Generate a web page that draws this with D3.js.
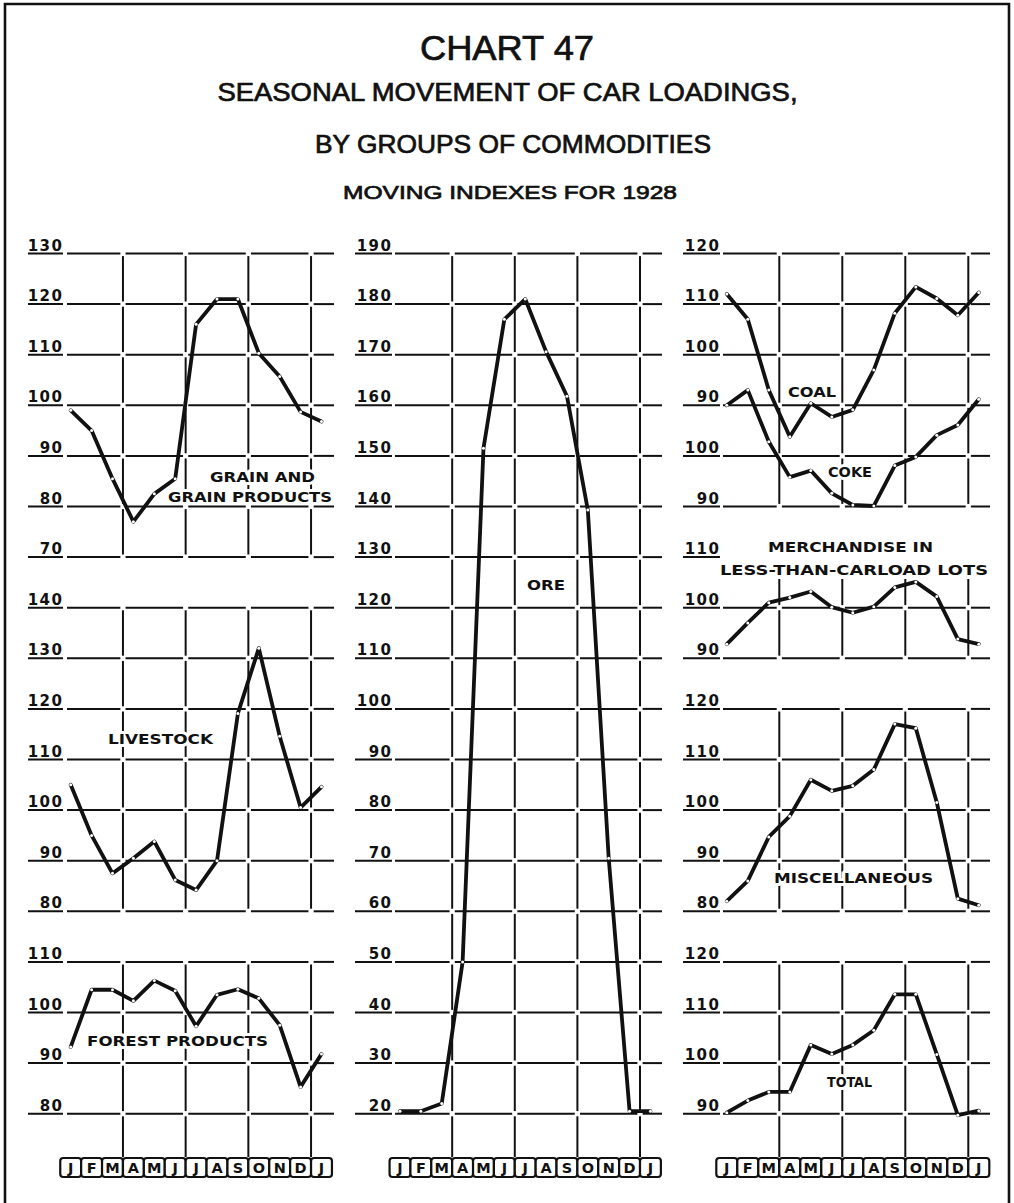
<!DOCTYPE html>
<html>
<head>
<meta charset="utf-8">
<script src="https://cdn.jsdelivr.net/npm/d3@7"></script>
<style>
  body { margin: 0; background: #fff; }
  svg text { fill: #111; }
</style>
</head>
<body>
<svg id="chart" width="1014" height="1203"></svg>
<script>
// Month initials along each column's base
const months = ["J", "F", "M", "A", "M", "J", "J", "A", "S", "O", "N", "D", "J"];

// Axis tick labels for each panel
const grainTicks     = [130, 120, 110, 100, 90, 80, 70];
const livestockTicks = [140, 130, 120, 110, 100, 90, 80];
const forestTicks    = [110, 100, 90, 80];
const oreTicks       = [190, 180, 170, 160, 150, 140, 130, 120, 110, 100, 90, 80, 70, 60, 50, 40, 30, 20];
const coalTicks      = [120, 110, 100, 90];
const cokeTicks      = [100, 90];
const merchTicks     = [110, 100, 90];
const miscTicks      = [120, 110, 100, 90, 80];
const totalTicks     = [120, 110, 100, 90];

// Moving seasonal indexes, January 1928 through January 1929
const grain     = [99, 95, 85.5, 77, 82.5, 85.5, 116, 121, 121, 110.3, 105.7, 98.7, 96.8];
const livestock = [105, 95, 87.5, 90.5, 93.8, 86.2, 84.2, 90, 119.1, 132, 114.6, 100.5, 104.6];
const forest    = [93.2, 104.5, 104.5, 102.3, 106.3, 104.3, 97.3, 103.5, 104.6, 102.8, 97.5, 85.3, 91.8];
const ore       = [20.5, 20.5, 22, 50, 151.5, 177, 181, 170.6, 161.8, 139.3, 70.5, 20.5, 20.5];
const coal      = [112, 107, 93, 83.8, 90.4, 87.7, 89.1, 97, 108.2, 113.4, 111.1, 107.8, 112.3];
const coke      = [110, 113, 102.8, 95.8, 97.1, 92.6, 90.3, 90.1, 98.1, 99.8, 104.1, 106.1, 111.2];
const merch     = [92.8, 97, 101, 102, 103.2, 100.1, 99, 100.2, 104, 105.1, 102.2, 93.8, 92.8];
const misc      = [82, 86, 94.7, 98.8, 106, 103.8, 104.8, 108, 117, 116.2, 101.5, 82.5, 81.2];
const total     = [90.2, 92.6, 94.3, 94.3, 103.6, 101.8, 103.6, 106.5, 113.6, 113.6, 101.7, 89.7, 90.6];

const W = 1014, H = 1203;
const INK = "#111";
const svg = d3.select("#chart");
svg.append("rect").attr("width", W).attr("height", H).attr("fill", "#fff");

// Frame (open at the bottom)
svg.append("path")
  .attr("d", "M5,1203 V4 H1009 V1203")
  .attr("fill", "none").attr("stroke", INK).attr("stroke-width", 2.6);

// Titles
const titles = [
  { text: "CHART 47", x: 507, y: 60, size: 35, len: 174 },
  { text: "SEASONAL MOVEMENT OF CAR LOADINGS,", x: 507.5, y: 101, size: 25, len: 580 },
  { text: "BY GROUPS OF COMMODITIES", x: 513, y: 153, size: 25, len: 396 },
  { text: "MOVING INDEXES FOR 1928", x: 510, y: 199, size: 19, len: 334 }
];
svg.selectAll("text.title").data(titles).join("text")
  .attr("class", "title")
  .attr("x", d => d.x).attr("y", d => d.y)
  .attr("text-anchor", "middle")
  .attr("font-family", "'Liberation Sans', Arial, sans-serif")
  .attr("font-size", d => d.size)
  .attr("stroke", INK).attr("stroke-width", 0.7)
  .attr("textLength", d => d.len).attr("lengthAdjust", "spacingAndGlyphs")
  .text(d => d.text);

// Shared row grid: every gridline across the sheet sits on one of 18 rows
const row = d3.scaleLinear().domain([0, 17]).range([253.5, 1113.7]);
const GAP = 2.6;
const BOX_TOP = 1158;

const columns = [
  {
    x0: 70.7, step: 20.9, labelRight: 62, underline: [28, 63], line: [67, 334],
    groups: [
      { ticks: grainTicks, k0: 0 },
      { ticks: livestockTicks, k0: 7 },
      { ticks: forestTicks, k0: 14 }
    ],
    spans: [{ a: 0, b: 6 }, { a: 7, b: 13 }, { a: 14, b: 17, ext: true }],
    series: [
      { values: grain, group: 0 },
      { values: livestock, group: 1 },
      { values: forest, group: 2 }
    ],
    labels: [
      { text: "GRAIN AND", x: 262.5, y: 476.7, len: 105 },
      { text: "GRAIN PRODUCTS", x: 250, y: 496.7, len: 164 },
      { text: "LIVESTOCK", x: 160.5, y: 738.3, len: 105 },
      { text: "FOREST PRODUCTS", x: 177.5, y: 1040.7, len: 181 }
    ]
  },
  {
    x0: 400, step: 20.87, labelRight: 391, underline: [355, 392], line: [395, 662],
    groups: [{ ticks: oreTicks, k0: 0 }],
    spans: [{ a: 0, b: 17, ext: true }],
    series: [{ values: ore, group: 0 }],
    labels: [{ text: "ORE", x: 546, y: 585, len: 38 }]
  },
  {
    x0: 726.8, step: 21.0, labelRight: 719, underline: [683, 720], line: [723, 990],
    groups: [
      { ticks: coalTicks, k0: 0 },
      { ticks: cokeTicks, k0: 4 },
      { ticks: merchTicks, k0: 6, bareTop: true },
      { ticks: miscTicks, k0: 9 },
      { ticks: totalTicks, k0: 14 }
    ],
    spans: [{ a: 0, b: 5 }, { a: 6, b: 8, start: 579 }, { a: 9, b: 13 }, { a: 14, b: 17, ext: true }],
    series: [
      { values: coal, group: 0 },
      { values: coke, group: 1 },
      { values: merch, group: 2 },
      { values: misc, group: 3 },
      { values: total, group: 4 }
    ],
    labels: [
      { text: "COAL", x: 812, y: 391.7, len: 48 },
      { text: "COKE", x: 850, y: 471.7, len: 44 },
      { text: "MERCHANDISE IN", x: 850.5, y: 546.7, len: 165 },
      { text: "LESS-THAN-CARLOAD LOTS", x: 854, y: 570, len: 268 },
      { text: "MISCELLANEOUS", x: 853.5, y: 877.3, len: 159 },
      { text: "TOTAL", x: 849.5, y: 1082, len: 45 }
    ]
  }
];

const gridLayer = svg.append("g").attr("stroke", INK).attr("stroke-width", 2).attr("stroke-linecap", "butt");
const markLayer = svg.append("g");
const textLayer = svg.append("g");

columns.forEach(col => {
  const x = d3.scaleLinear().domain([0, 12]).range([col.x0, col.x0 + 12 * col.step]);
  const quarterXs = [2.5, 5.5, 8.5, 11.5].map(x);

  // y scale for each tick group, anchored to the shared rows
  col.groups.forEach(g => {
    g.y = d3.scaleLinear()
      .domain([g.ticks[0], g.ticks[g.ticks.length - 1]])
      .range([row(g.k0), row(g.k0 + g.ticks.length - 1)]);
  });

  // Horizontal gridlines with tick labels, broken where the quarter lines cross
  col.groups.forEach(g => {
    g.ticks.forEach((t, i) => {
      const yy = g.y(t);
      gridLayer.append("line")
        .attr("x1", col.underline[0]).attr("x2", col.underline[1])
        .attr("y1", yy).attr("y2", yy);
      if (!(g.bareTop && i === 0)) {
        const stops = [col.line[0], ...quarterXs.flatMap(q => [q - GAP, q + GAP]), col.line[1]];
        for (let s = 0; s < stops.length; s += 2) {
          gridLayer.append("line")
            .attr("x1", stops[s]).attr("x2", stops[s + 1])
            .attr("y1", yy).attr("y2", yy);
        }
      }
      textLayer.append("text")
        .attr("x", col.labelRight + 1.5).attr("y", yy - 3)
        .attr("text-anchor", "end")
        .attr("font-family", "'DejaVu Sans', sans-serif")
        .attr("font-weight", "bold").attr("font-size", 15)
        .attr("letter-spacing", 1.5)
        .text(t);
    });
  });

  // Quarter-year vertical lines, broken at each gridline row
  col.spans.forEach(sp => {
    quarterXs.forEach(qx => {
      for (let k = sp.a; k < sp.b; k++) {
        let y1 = row(k) + GAP, y2 = row(k + 1) - GAP;
        if (k === sp.a && sp.start) y1 = sp.start;
        gridLayer.append("line").attr("x1", qx).attr("x2", qx).attr("y1", y1).attr("y2", y2);
      }
      if (sp.ext) {
        gridLayer.append("line").attr("x1", qx).attr("x2", qx)
          .attr("y1", row(sp.b) + GAP).attr("y2", BOX_TOP - 1);
      }
    });
  });

  // Series lines with small open markers at each month
  col.series.forEach(s => {
    const y = col.groups[s.group].y;
    const line = d3.line().x((d, i) => x(i)).y(d => y(d));
    markLayer.append("path")
      .attr("d", line(s.values))
      .attr("fill", "none").attr("stroke", INK)
      .attr("stroke-width", 3.8).attr("stroke-linejoin", "round").attr("stroke-linecap", "round");
    markLayer.selectAll(null).data(s.values).join("circle")
      .attr("cx", (d, i) => x(i)).attr("cy", d => y(d))
      .attr("r", 1.5).attr("fill", "#fff");
  });

  // Series names, knocked out of the grid
  textLayer.selectAll(null).data(col.labels).join("text")
    .attr("x", d => d.x).attr("y", d => d.y + 5.4)
    .attr("text-anchor", "middle")
    .attr("font-family", "'DejaVu Sans', sans-serif")
    .attr("font-weight", "bold").attr("font-size", 14.5)
    .attr("textLength", d => d.len).attr("lengthAdjust", "spacingAndGlyphs")
    .attr("stroke", "#fff").attr("stroke-width", 6).attr("paint-order", "stroke")
    .attr("stroke-linejoin", "round")
    .text(d => d.text);

  // Month boxes
  const boxes = textLayer.append("g");
  months.forEach((m, i) => {
    boxes.append("rect")
      .attr("x", x(i) - col.step / 2).attr("y", BOX_TOP)
      .attr("width", col.step).attr("height", 19).attr("rx", 3)
      .attr("fill", "#fff").attr("stroke", INK).attr("stroke-width", 2.2);
    boxes.append("text")
      .attr("x", x(i)).attr("y", BOX_TOP + 15)
      .attr("text-anchor", "middle")
      .attr("font-family", "'DejaVu Sans', sans-serif")
      .attr("font-weight", "bold").attr("font-size", 14.5)
      .text(m);
  });
});
</script>
</body>
</html>
